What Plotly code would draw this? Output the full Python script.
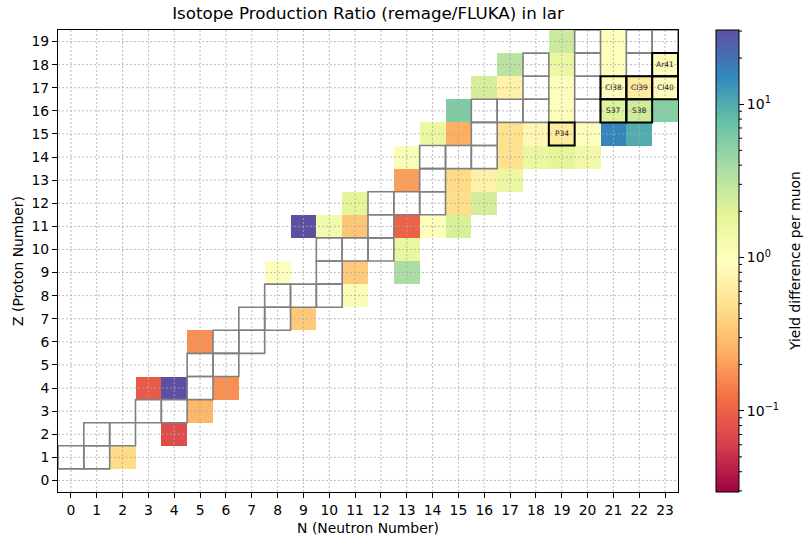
import numpy as np
import plotly.graph_objects as go

# ---------------- data ----------------
N_ticks = list(range(0, 24))
Z_ticks = list(range(0, 20))

# produced isotopes: neutron number, proton number, ratio remage/FLUKA
prod_N = [2, 4, 5, 3, 4, 6, 5, 9, 11, 8, 11, 13, 13, 9, 10, 11, 13, 14, 15,
          11, 15, 16, 13, 15, 16, 17, 13, 17, 18, 19, 20,
          14, 15, 17, 18, 19, 20, 21, 22,
          15, 19, 21, 22, 23,
          16, 17, 19, 21, 22, 23,
          17, 19, 21, 23,
          19, 21]
prod_Z = [1, 2, 3, 4, 4, 4, 6, 7, 8, 9, 9, 9, 10, 11, 11, 11, 11, 11, 11,
          12, 12, 12, 13, 13, 13, 13, 14, 14, 14, 14, 14,
          15, 15, 15, 15, 15, 15, 15, 15,
          16, 16, 16, 16, 16,
          17, 17, 17, 17, 17, 17,
          18, 18, 18, 18,
          19, 19]
prod_ratio = [0.45, 0.074, 0.27, 0.09, 30.0, 0.17, 0.17, 0.35, 1.1, 1.0, 0.35, 3.8, 1.7, 30.0, 1.35, 0.33, 0.10, 1.0, 2.2,
              1.9, 0.47, 2.3, 0.20, 0.44, 0.7, 1.6, 1.1, 0.5, 1.6, 1.9, 1.4,
              1.6, 0.24, 0.5, 0.8, 0.6, 1.0, 16.0, 10.0,
              6.0, 1.0, 2.1, 2.5, 5.5,
              2.3, 0.7, 1.0, 0.9, 0.6, 0.9,
              3.2, 1.6, 0.9, 0.9,
              2.6, 0.9]

# outlined (stable) isotopes
stable_N = [0, 1, 1, 2, 3, 4, 5, 5, 6, 6, 7, 7, 8, 8, 9, 10, 10, 10, 11, 12, 12, 12, 13, 14, 14,
            14, 15, 16, 16, 16, 17, 18, 20, 18, 20, 18, 20, 22, 20, 22, 23]
stable_Z = [1, 1, 2, 2, 3, 3, 4, 5, 5, 6, 6, 7, 7, 8, 8, 8, 9, 10, 10, 10, 11, 12, 12, 12, 13,
            14, 14, 14, 15, 16, 16, 16, 16, 17, 17, 18, 18, 18, 19, 19, 19]

# highlighted isotopes
label_names = ["P34", "S37", "S38", "Cl38", "Cl39", "Cl40", "Ar41"]
label_N = [19, 21, 22, 21, 22, 23, 23]
label_Z = [15, 16, 16, 17, 17, 17, 18]

vmin, vmax = 0.0295, 30.5
cbar_major = [0.1, 1, 10]
cbar_major_text = ["10<sup>−1</sup>", "10<sup>0</sup>", "10<sup>1</sup>"]
cbar_minor = [0.03, 0.04, 0.05, 0.06, 0.07, 0.08, 0.09,
              0.2, 0.3, 0.4, 0.5, 0.6, 0.7, 0.8, 0.9,
              2, 3, 4, 5, 6, 7, 8, 9, 20, 30]
cbar_label = "Yield difference per muon"

# ---------------- figure ----------------
z = np.full((len(Z_ticks), len(N_ticks)), np.nan)
for n, zz, r in zip(prod_N, prod_Z, prod_ratio):
    z[zz, n] = np.log10(r)

spectral = ["rgb(158,1,66)", "rgb(213,62,79)", "rgb(244,109,67)", "rgb(253,174,97)",
            "rgb(254,224,139)", "rgb(255,255,191)", "rgb(230,245,152)", "rgb(171,221,164)",
            "rgb(102,194,165)", "rgb(50,136,189)", "rgb(94,79,162)"]
cscale = [[i / 10, c] for i, c in enumerate(spectral)]

FONT = "DejaVu Sans"
L, R, T, B = 58, 134, 30, 54
W, H = 812, 546
plot_w = W - L - R
cb_left_px, cb_thick = 716, 23
cb_x = (cb_left_px - L) / plot_w
cb_right = (cb_left_px + cb_thick - L) / plot_w
lo, hi = np.log10(vmin), np.log10(vmax)

fig = go.Figure()
fig.add_trace(go.Heatmap(
    x=N_ticks, y=Z_ticks, z=z,
    zmin=lo, zmax=hi,
    colorscale=cscale, hoverongaps=False,
    colorbar=dict(
        x=cb_x, xanchor="left", xpad=0, ypad=0,
        y=0.5, yanchor="middle", len=1, lenmode="fraction",
        thickness=cb_thick, thicknessmode="pixels",
        outlinewidth=1, outlinecolor="black",
        tickmode="array", tickvals=[np.log10(v) for v in cbar_major],
        ticktext=cbar_major_text,
        ticks="outside", ticklen=5, tickwidth=1, tickcolor="black",
        tickfont=dict(family=FONT, size=14, color="black"),
    ),
))

shapes = []
grid_style = dict(color="rgba(170,170,170,0.8)", width=1, dash="2px,2px")
for n in N_ticks:
    shapes.append(dict(type="line", xref="x", yref="y domain", x0=n, x1=n, y0=0, y1=1,
                       line=grid_style, layer="above"))
for zz in Z_ticks:
    shapes.append(dict(type="line", xref="x domain", yref="y", x0=0, x1=1, y0=zz, y1=zz,
                       line=grid_style, layer="above"))
for n, zz in zip(stable_N, stable_Z):
    shapes.append(dict(type="rect", xref="x", yref="y", x0=n - 0.5, x1=n + 0.5,
                       y0=zz - 0.5, y1=zz + 0.5,
                       line=dict(color="#808080", width=1.6), layer="above"))
for n, zz in zip(label_N, label_Z):
    shapes.append(dict(type="rect", xref="x", yref="y", x0=n - 0.5, x1=n + 0.5,
                       y0=zz - 0.5, y1=zz + 0.5,
                       line=dict(color="black", width=2), layer="above"))
# colorbar minor ticks (log positions along the bar, which spans the plot height)
for v in cbar_minor:
    fy = (np.log10(v) - lo) / (hi - lo)
    shapes.append(dict(type="line", xref="x domain", yref="y domain",
                       x0=cb_right, x1=cb_right + 3 / plot_w, y0=fy, y1=fy,
                       line=dict(color="black", width=1), layer="above"))

annotations = [dict(x=n, y=zz, xref="x", yref="y", text=t, showarrow=False,
                    font=dict(family=FONT, size=7.5, color="#222222"))
               for t, n, zz in zip(label_names, label_N, label_Z)]
annotations.append(dict(x=(795 - L) / plot_w, y=0.5, xref="x domain", yref="y domain",
                        text=cbar_label, textangle=-90, showarrow=False,
                        xanchor="center", yanchor="middle",
                        font=dict(family=FONT, size=13.9, color="black")))

axis_common = dict(showgrid=False, zeroline=False, showline=True, mirror=True,
                   linecolor="black", linewidth=1, ticks="outside", ticklen=5,
                   tickwidth=1, tickcolor="black",
                   tickfont=dict(family=FONT, size=13.9, color="black"))

fig.update_layout(
    width=W, height=H,
    margin=dict(l=L, r=R, t=T, b=B, pad=0),
    paper_bgcolor="white", plot_bgcolor="white",
    title=dict(text="Isotope Production Ratio (remage/FLUKA) in lar",
               x=(L + plot_w / 2) / W, xanchor="center", y=1 - 13 / H, yanchor="middle",
               font=dict(family=FONT, size=16.7, color="black")),
    xaxis=dict(range=[-0.5, 23.5], tickmode="array", tickvals=N_ticks,
               title=dict(text="N (Neutron Number)", standoff=6,
                          font=dict(family=FONT, size=13.9, color="black")),
               **axis_common),
    yaxis=dict(range=[-0.5, 19.5], tickmode="array", tickvals=Z_ticks,
               title=dict(text="Z (Proton Number)", standoff=4,
                          font=dict(family=FONT, size=13.9, color="black")),
               **axis_common),
    shapes=shapes,
    annotations=annotations,
)

fig.write_html("out.html")
